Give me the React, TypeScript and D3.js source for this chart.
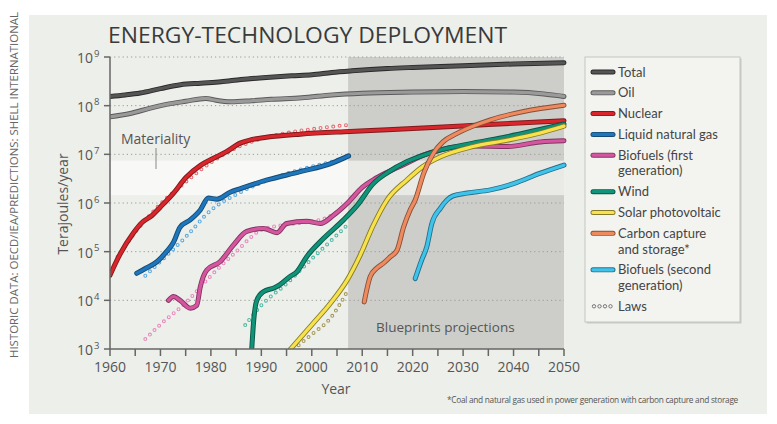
import React from 'react';
import * as d3 from 'd3';

// ---------- data ----------
const xTickYears = [1960, 1970, 1980, 1990, 2000, 2010, 2020, 2030, 2040, 2050];
const xMinorYears = [1965, 1975, 1985, 1995, 2005, 2015, 2025, 2035, 2045];
const yTickExps = [3, 4, 5, 6, 7, 8, 9];
const projectionStart = 2007.2;
const materialityBand = [1.45e6, 7.4e6];

type P = [number, number];

const total: P[] = [
  [1960, 1.55e8], [1963, 1.66e8], [1966, 1.82e8], [1970, 2.24e8], [1974, 2.7e8], [1978, 2.9e8],
  [1982, 3.1e8], [1986, 3.45e8], [1991, 3.8e8], [1996, 4.1e8], [2000, 4.3e8], [2004, 4.8e8],
  [2008, 5.2e8], [2015, 5.8e8], [2020, 6.1e8], [2030, 6.6e8], [2040, 7.2e8], [2050, 7.6e8],
];
const oil: P[] = [
  [1960, 5.9e7], [1964, 6.9e7], [1968, 8.9e7], [1972, 1.1e8], [1975, 1.23e8], [1979, 1.41e8],
  [1981, 1.29e8], [1984, 1.2e8], [1988, 1.26e8], [1992, 1.35e8], [1998, 1.45e8], [2004, 1.66e8],
  [2010, 1.8e8], [2020, 1.9e8], [2030, 1.95e8], [2040, 1.9e8], [2046, 1.74e8], [2050, 1.55e8],
];
const nuclear: P[] = [
  [1960, 3.3e4], [1962, 8.9e4], [1964.6, 2.4e5], [1966.6, 4.2e5], [1968, 5.2e5], [1970, 8.3e5],
  [1972.6, 1.6e6], [1975, 3.3e6], [1978, 6.0e6], [1980.5, 8.3e6], [1983, 1.12e7], [1985.8, 1.7e7],
  [1988, 2.0e7], [1991, 2.24e7], [1997.7, 2.6e7], [2007.6, 2.95e7], [2015, 3.2e7], [2025, 3.6e7],
  [2035, 4.1e7], [2050, 4.9e7],
];
const nuclearLaws: P[] = [
  [1961.5, 7.9e4], [1965, 2.5e5], [1970, 9.5e5], [1975, 2.7e6], [1980, 6.8e6], [1985, 1.35e7],
  [1990, 2.1e7], [1995, 2.75e7], [2000, 3.3e7], [2004, 3.7e7], [2007, 4.0e7],
];
const lng: P[] = [
  [1965.3, 3.6e4], [1967, 4.5e4], [1969.3, 6.2e4], [1971.2, 1.0e5], [1972.5, 1.5e5], [1973.9, 3.2e5],
  [1975.9, 4.5e5], [1977.9, 7.2e5], [1979.5, 1.26e6], [1981.2, 1.2e6], [1983.8, 1.66e6], [1986, 2.0e6],
  [1991, 2.95e6], [1997.7, 4.4e6], [2004, 6.6e6], [2007.3, 9.3e6],
];
const lngLaws: P[] = [
  [1967, 3.2e4], [1970, 6.3e4], [1975, 2.0e5], [1980, 7.1e5], [1985, 1.5e6], [1990, 2.6e6],
  [1995, 4.0e6], [2000, 5.6e6], [2005, 7.6e6], [2007, 8.9e6],
];
const biofuels1: P[] = [
  [1971.6, 1.0e4], [1972.6, 1.2e4], [1973.9, 1.0e4], [1975.9, 6.9e3], [1977.2, 7.9e3], [1977.9, 1.9e4],
  [1979.2, 4.2e4], [1981.8, 6.2e4], [1984.5, 1.38e5], [1987.1, 2.6e5], [1990.4, 3.0e5], [1993.1, 2.45e5],
  [1995, 3.8e5], [1999, 4.2e5], [2001.7, 3.8e5], [2004.3, 5.6e5], [2007.3, 1.05e6], [2010, 2.1e6],
  [2012.2, 3.0e6], [2015, 4.3e6], [2018.9, 6.6e6], [2022, 9.5e6], [2025.5, 1.23e7], [2028, 1.4e7],
  [2032, 1.48e7], [2038.7, 1.45e7], [2045.3, 1.8e7], [2050, 1.9e7],
];
const biofuels1Laws: P[] = [
  [1967, 1.6e3], [1970, 3.2e3], [1975, 8.9e3], [1980, 3.2e4], [1985, 1.0e5], [1990, 2.8e5],
  [1995, 3.6e5], [2000, 4.2e5], [2003, 5.0e5], [2006, 8.0e5], [2007.5, 1.1e6],
];
const wind: P[] = [
  [1988.1, 1.0e3], [1988.5, 4.0e3], [1989.1, 1.0e4], [1990.4, 1.5e4], [1992.5, 1.8e4], [1993.7, 2.1e4],
  [1995.7, 3.1e4], [1997, 3.8e4], [1999, 7.9e4], [2002.3, 1.86e5], [2006.3, 4.5e5], [2009, 8.9e5],
  [2012.2, 2.5e6], [2015, 4.2e6], [2018.9, 7.1e6], [2022, 9.5e6], [2025.5, 1.23e7], [2032, 1.7e7],
  [2038.7, 2.3e7], [2045, 3.2e7], [2050, 4.2e7],
];
const windLaws: P[] = [
  [1986.8, 3.1e3], [1990, 7.9e3], [1995, 2.2e4], [2000, 7.1e4], [2005, 2.2e5], [2007, 3.5e5],
];
const solar: P[] = [
  [1995.8, 1.0e3], [2000.3, 3.4e3], [2003.7, 8.7e3], [2007, 2.6e4], [2009.6, 8.5e4], [2012.2, 3.5e5],
  [2014.9, 1.15e6], [2018.9, 3.0e6], [2022, 5.6e6], [2025.5, 8.9e6], [2032, 1.45e7], [2038.7, 1.95e7],
  [2045, 2.7e7], [2050, 3.8e7],
];
const solarLaws: P[] = [
  [1997.4, 1.2e3], [2000, 2.0e3], [2003.7, 4.3e3], [2007, 1.5e4],
];
const ccs: P[] = [
  [2010.4, 9.3e3], [2011.6, 3.1e4], [2012.9, 4.6e4], [2014.2, 5.8e4], [2015.6, 7.9e4], [2016.9, 1.07e5],
  [2018.2, 3.2e5], [2019.5, 7.2e5], [2020.5, 1.15e6], [2022.2, 4.1e6], [2024.1, 1.05e7], [2026, 1.8e7],
  [2028.8, 2.7e7], [2035.4, 5.1e7], [2042, 7.6e7], [2050, 1.02e8],
];
const biofuels2: P[] = [
  [2020.5, 2.8e4], [2021.8, 6.8e4], [2022.8, 1.26e5], [2023.8, 3.8e5], [2025.5, 7.8e5], [2026.8, 1.15e6],
  [2028, 1.4e6], [2030.8, 1.6e6], [2035.4, 1.86e6], [2040, 2.5e6], [2045.3, 4.1e6], [2050, 6.0e6],
];

const series = [
  { key: 'total', label: ['Total'], data: total, color: '#555555', edge: '#2a2a2a' },
  { key: 'oil', label: ['Oil'], data: oil, color: '#9a9a9a', edge: '#5a5a5a' },
  { key: 'nuclear', label: ['Nuclear'], data: nuclear, color: '#d9262c', edge: '#7e1a1c' },
  { key: 'lng', label: ['Liquid natural gas'], data: lng, color: '#1e76bd', edge: '#154a72' },
  { key: 'bio1', label: ['Biofuels (first', 'generation)'], data: biofuels1, color: '#d6559f', edge: '#7f3560' },
  { key: 'wind', label: ['Wind'], data: wind, color: '#109479', edge: '#0b5647' },
  { key: 'solar', label: ['Solar photovoltaic'], data: solar, color: '#f7e24c', edge: '#857a2c' },
  { key: 'ccs', label: ['Carbon capture', 'and storage*'], data: ccs, color: '#ee8a5e', edge: '#86503a' },
  { key: 'bio2', label: ['Biofuels (second', 'generation)'], data: biofuels2, color: '#3fc3ea', edge: '#26708a' },
];

const laws = [
  { key: 'nuclearLaws', data: nuclearLaws, color: '#e76d74' },
  { key: 'lngLaws', data: lngLaws, color: '#5ea9dc' },
  { key: 'bio1Laws', data: biofuels1Laws, color: '#e58bbd' },
  { key: 'windLaws', data: windLaws, color: '#52b8a5' },
  { key: 'solarLaws', data: solarLaws, color: '#a89a5c' },
];

// ---------- layout ----------
const W = 777;
const H = 424;
const PL = 110, PR = 564, PT = 57, PB = 349;
const FONT = '"Open Sans", "DejaVu Sans", sans-serif';
const LEGEND_FONT = 'Lato, "Open Sans", sans-serif';

export default function App() {
  const x = d3.scaleLinear().domain([1960, 2050]).range([PL, PR]);
  const y = d3.scaleLog().domain([1e3, 1e9]).range([PB, PT]);
  const line = d3.line<P>().x(d => x(d[0])).y(d => y(d[1])).curve(d3.curveMonotoneX);

  const xp = x(projectionStart);
  const bandTop = y(materialityBand[1]);
  const bandBot = y(materialityBand[0]);

  const legendX = 585, legendY = 57;
  const lineGap = 15.7;
  let ly = legendY + 15;
  const legendRows: { item: typeof series[0]; y: number }[] = [];
  series.forEach(s => {
    legendRows.push({ item: s, y: ly });
    ly += 20.8 + (s.label.length - 1) * lineGap;
  });
  const lawsY = ly;

  return (
    <svg width={W} height={H} style={{ position: 'absolute', left: 0, top: 0, fontFamily: FONT }}>
      <defs>
        <clipPath id="plotClip">
          <rect x={PL} y={PT - 5} width={PR - PL + 5} height={PB - PT + 5} />
        </clipPath>
      </defs>
      <rect x={0} y={0} width={W} height={H} fill="#ffffff" />
      <rect x={29} y={15} width={738} height={399} fill="#edefea" />

      {/* side credit */}
      <text
        transform={`translate(18, 185) rotate(-90)`}
        textAnchor="middle"
        fontSize={11}
        fill="#666"
        textLength={346}
        lengthAdjust="spacingAndGlyphs"
      >
        HISTORIC DATA: OECD/IEA/PREDICTIONS: SHELL INTERNATIONAL
      </text>

      {/* title */}
      <text x={108} y={43} fontSize={22} fill="#3a3a3a" textLength={399} lengthAdjust="spacingAndGlyphs">
        ENERGY-TECHNOLOGY DEPLOYMENT
      </text>

      {/* projection shading */}
      <rect x={xp} y={PT} width={PR - xp} height={PB - PT} fill="#cdcec9" />
      {/* materiality band */}
      <rect x={PL} y={bandTop} width={xp - PL} height={bandBot - bandTop} fill="#f8f8f6" />
      <rect x={xp} y={bandTop} width={PR - xp} height={bandBot - bandTop} fill="#e9eae6" />

      {/* grid */}
      {yTickExps.slice(1).map(e => (
        <line key={e} x1={PL} x2={PR} y1={y(10 ** e)} y2={y(10 ** e)} stroke="#9a9a98" strokeWidth={1} strokeDasharray="1.2 3" />
      ))}

      {/* materiality label */}
      <text x={121} y={144} fontSize={14} fill="#555">Materiality</text>
      <line x1={156} x2={156} y1={148} y2={169} stroke="#888" strokeWidth={1} />

      <text x={376} y={332} fontSize={13.5} fill="#555">Blueprints projections</text>

      {/* laws and series */}
      <g clipPath="url(#plotClip)">
        {laws.map(l => (
          <g key={l.key}>
            <path d={line(l.data) || ''} fill="none" stroke={l.color} strokeWidth={4} strokeLinecap="round" strokeDasharray="0 6.4" />
            <path d={line(l.data) || ''} fill="none" stroke="#f6f6f4" strokeWidth={1.8} strokeLinecap="round" strokeDasharray="0 6.4" />
          </g>
        ))}
        {series.map(s => (
          <g key={s.key}>
            <path d={line(s.data) || ''} fill="none" stroke={s.edge} strokeWidth={5} strokeLinecap="round" strokeLinejoin="round" />
            <path d={line(s.data) || ''} fill="none" stroke={s.color} strokeWidth={3.2} strokeLinecap="round" strokeLinejoin="round" />
          </g>
        ))}
      </g>

      {/* axes */}
      <line x1={PL} x2={PL} y1={PT} y2={PB} stroke="#666" strokeWidth={1.5} />
      <line x1={PL} x2={PR} y1={PB} y2={PB} stroke="#666" strokeWidth={1.5} />
      {yTickExps.map(e => (
        <g key={e}>
          <line x1={PL - 6} x2={PL} y1={y(10 ** e)} y2={y(10 ** e)} stroke="#666" strokeWidth={1.5} />
          <text x={93} y={y(10 ** e) + 6} fontSize={14} fill="#555" textAnchor="end">10</text>
          <text x={94} y={y(10 ** e) - 0.5} fontSize={9.5} fill="#555">{e}</text>
        </g>
      ))}
      {[...xTickYears, ...xMinorYears].map(t => (
        <line key={t} x1={x(t)} x2={x(t)} y1={PB} y2={PB + 7} stroke="#666" strokeWidth={1.5} />
      ))}
      {xTickYears.map(t => (
        <text key={t} x={x(t)} y={372} fontSize={14} fill="#555" textAnchor="middle">{t}</text>
      ))}
      <text x={336} y={394} fontSize={14} fill="#555" textAnchor="middle">Year</text>
      <text transform="translate(68, 204) rotate(-90)" fontSize={14} fill="#555" textAnchor="middle">Terajoules/year</text>

      {/* footnote */}
      <text x={447} y={403} fontSize={9} letterSpacing={-0.3} fill="#555" textLength={291} lengthAdjust="spacingAndGlyphs">
        *Coal and natural gas used in power generation with carbon capture and storage
      </text>

      {/* legend */}
      <rect x={legendX + 1.5} y={legendY + 1.5} width={155} height={265} fill="#c9cac5" />
      <rect x={legendX} y={legendY} width={155} height={265} fill="#f3f4f0" stroke="#c4c5c0" strokeWidth={1} />
      <g fontFamily={LEGEND_FONT}>
        {legendRows.map(({ item, y: ry }) => (
          <g key={item.key}>
            <line x1={593} x2={613} y1={ry} y2={ry} stroke={item.edge} strokeWidth={5} strokeLinecap="round" />
            <line x1={593} x2={613} y1={ry} y2={ry} stroke={item.color} strokeWidth={3.2} strokeLinecap="round" />
            {item.label.map((t, i) => (
              <text key={i} x={618} y={ry + 4.5 + i * lineGap} fontSize={13} fill="#444">{t}</text>
            ))}
          </g>
        ))}
        {[0, 1, 2, 3].map(i => (
          <circle key={i} cx={594 + i * 5.5} cy={lawsY} r={1.7} fill="none" stroke="#777" strokeWidth={1} />
        ))}
        <text x={618} y={lawsY + 4.5} fontSize={13} fill="#444">Laws</text>
      </g>
    </svg>
  );
}
